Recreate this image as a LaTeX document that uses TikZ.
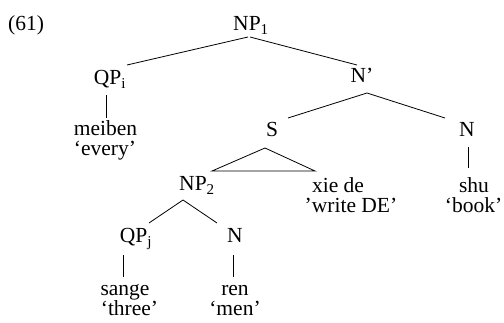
\documentclass[tikz,border=0pt]{standalone}
\usepackage{fontspec}
\setmainfont{Liberation Serif}
\usetikzlibrary{calc}
\tikzset{
  lbl/.style={anchor=base, inner sep=0pt, font=\fontsize{21.5}{26}\selectfont},
  edge/.style={line width=0.8pt},
}
\begin{document}
\begin{tikzpicture}[x=1pt, y=-1pt]
\useasboundingbox (0,0) rectangle (504,323);
% labels
\node[lbl, anchor=base west] (ex) at (8,31) {(61)};
\node[lbl] (np1) at (251,31) {NP\textsubscript{1}};
\node[lbl] (qpi) at (110,85) {QP\textsubscript{i}};
\node[lbl] (meiben) at (105.5,135.5) {meiben};
\node[lbl] (every) at (105,155.5) {‘every’};
\node[lbl] (nbar) at (362,83) {N’};
\node[lbl] (s) at (272,137) {S};
\node[lbl] (nr) at (467,137) {N};
\node[lbl] (xiede) at (338,192.5) {xie de};
\node[lbl] (writede) at (351,213) {’write DE’};
\node[lbl] (shu) at (474,192.5) {shu};
\node[lbl] (book) at (473.5,213) {‘book’};
\node[lbl] (np2) at (197,191) {NP\textsubscript{2}};
\node[lbl] (qpj) at (136,243) {QP\textsubscript{j}};
\node[lbl] (nl) at (235,243) {N};
\node[lbl] (sange) at (125,295.5) {sange};
\node[lbl] (three) at (129.5,315.5) {‘three’};
\node[lbl] (ren) at (235,295.5) {ren};
\node[lbl] (men) at (235,315.5) {‘men’};
% connectors
\draw[edge] ($(np1.base)+(-3,6)$) -- ($(qpi.base)+(17,-20)$);
\draw[edge] ($(np1.base)+(-1,6)$) -- ($(nbar.base)+(-5,-18)$);
\draw[edge] ($(qpi.base)+(-4,10)$) -- ($(meiben.base)+(0.5,-17.5)$);
\draw[edge] ($(nbar.base)+(5,10)$) -- ($(s.base)+(16,-19)$);
\draw[edge] ($(nbar.base)+(5,10)$) -- ($(nr.base)+(-22,-19)$);
\draw[edge] ($(s.base)+(-7,11)$) -- ($(np2.base)+(15,-20)$) -- ($(xiede.base)+(-23,-21.5)$) -- cycle;
\draw[edge] ($(nr.base)+(1,10)$) -- ($(shu.base)+(-6,-24.5)$);
\draw[edge] ($(np2.base)+(-14,9)$) -- ($(qpj.base)+(13,-20)$);
\draw[edge] ($(np2.base)+(-14,9)$) -- ($(nl.base)+(-18,-20)$);
\draw[edge] ($(qpj.base)+(-13,12)$) -- ($(sange.base)+(-2,-18.5)$);
\draw[edge] ($(nl.base)+(-2,12)$) -- ($(ren.base)+(-2,-18.5)$);
\end{tikzpicture}
\end{document}
